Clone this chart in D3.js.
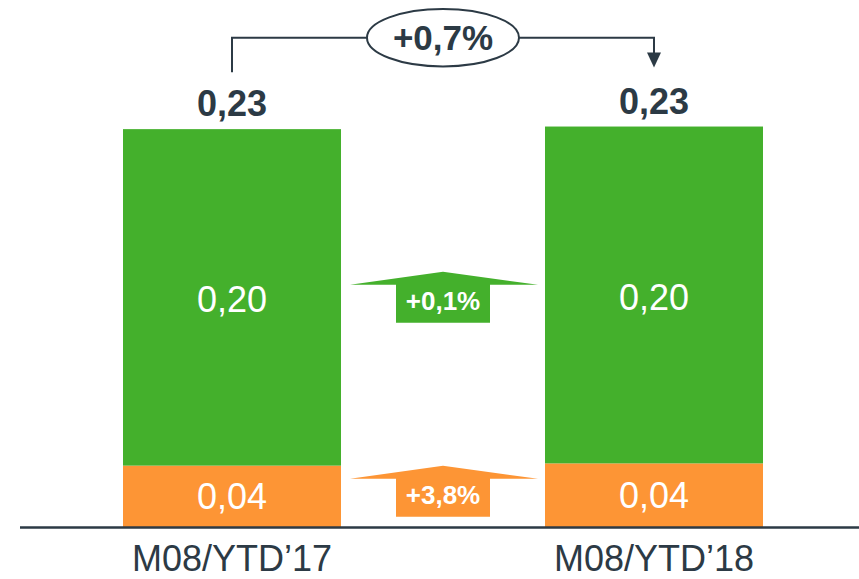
<!DOCTYPE html>
<html><head><meta charset="utf-8">
<script src="https://cdn.jsdelivr.net/npm/d3@7"></script>
<style>html,body{margin:0;padding:0;background:#fff;}svg{display:block;font-family:"Liberation Sans",Arial,sans-serif;}</style>
</head><body>
<svg id="c" width="859" height="579"></svg>
<script>
const categories = ["M08/YTD\u201917", "M08/YTD\u201918"];
const orangeValues = [0.0355, 0.0368];
const greenValues = [0.1946, 0.1948];
const orangeLabels = ["0,04", "0,04"];
const greenLabels = ["0,20", "0,20"];
const totalLabels = ["0,23", "0,23"];
const segmentChanges = { green: "+0,1%", orange: "+3,8%" };
const totalChange = "+0,7%";

const W = 859, H = 579;
const dark = "#2c3a45", green = "#44b02c", orange = "#fd9535";
const svg = d3.select("#c");

const x = d3.scaleBand().domain(categories).range([123, 763]).paddingInner(0.4834).paddingOuter(0);
const y = d3.scaleLinear().domain([0, 0.23]).range([527, 129.3]);

const data = categories.map((c, i) => ({
  c, o: orangeValues[i], g: greenValues[i],
  ol: orangeLabels[i], gl: greenLabels[i], tl: totalLabels[i]
}));

// bars
const bars = svg.append("g");
bars.selectAll("rect.o").data(data).join("rect")
  .attr("x", d => x(d.c)).attr("width", x.bandwidth())
  .attr("y", d => y(d.o)).attr("height", d => y(0) - y(d.o))
  .attr("fill", orange);
bars.selectAll("rect.g").data(data).join("rect")
  .attr("x", d => x(d.c)).attr("width", x.bandwidth())
  .attr("y", d => y(d.o + d.g)).attr("height", d => y(d.o) - y(d.o + d.g))
  .attr("fill", green);

const cx = d => x(d.c) + x.bandwidth() / 2;

// inner labels
svg.append("g").selectAll("text").data(data).join("text")
  .attr("x", cx).attr("y", d => (y(0) + y(d.o)) / 2 + 13)
  .attr("text-anchor", "middle").attr("fill", "#fff")
  .attr("font-size", 36).text(d => d.ol);
svg.append("g").selectAll("text").data(data).join("text")
  .attr("x", cx).attr("y", d => (y(d.o) + y(d.o + d.g)) / 2 + 15)
  .attr("text-anchor", "middle").attr("fill", "#fff")
  .attr("font-size", 36).text(d => d.gl);
// totals
svg.append("g").selectAll("text").data(data).join("text")
  .attr("x", cx).attr("y", d => y(d.o + d.g) - 12.7)
  .attr("text-anchor", "middle").attr("fill", dark)
  .attr("font-size", 36).attr("font-weight", "bold").text(d => d.tl);

// axis
svg.append("line").attr("x1", 20).attr("x2", W).attr("y1", y(0) + 0.5).attr("y2", y(0) + 0.5)
  .attr("stroke", dark).attr("stroke-width", 2.5);
const ax = svg.append("g").attr("transform", `translate(0,${y(0)})`)
  .call(d3.axisBottom(x).tickSize(0));
ax.select(".domain").remove();
ax.selectAll("text").attr("dy", null).attr("y", 44)
  .attr("font-size", 36).attr("fill", dark)
  .attr("font-family", "'Liberation Sans', Arial, sans-serif");

// change arrows between bars
const midX = (cx(data[0]) + cx(data[1])) / 2;
function upArrow(centerY, color, label) {
  const top = centerY - 25.5, wing = top + 13, bottom = top + 51;
  const g = svg.append("g");
  g.append("path").attr("fill", color).attr("d",
    `M${midX},${top} L${midX + 95},${wing} L${midX + 47},${wing} L${midX + 47},${bottom} L${midX - 47},${bottom} L${midX - 47},${wing} L${midX - 93},${wing} Z`);
  g.append("text").attr("x", midX).attr("y", wing + 25).attr("text-anchor", "middle")
    .attr("fill", "#fff").attr("font-weight", "bold").attr("font-size", 26).text(label);
}
const gMid = (y(data[0].o) + y(data[0].o + data[0].g)) / 2;
const oMid = (y(0) + y(data[0].o)) / 2;
upArrow(gMid, green, segmentChanges.green);
upArrow(oMid - 5, orange, segmentChanges.orange);

// top bracket
const lx = cx(data[0]), rx = cx(data[1]);
const by = 37.7;
const ex = 443, erx = 76, ery = 28.7;
const br = svg.append("g").attr("fill", "none").attr("stroke", dark).attr("stroke-width", 2);
br.append("path").attr("d", `M${lx},${y(data[0].o + data[0].g) - 57} L${lx},${by} L${ex - erx},${by}`);
br.append("path").attr("d", `M${ex + erx},${by} L${rx},${by} L${rx},${y(data[1].o + data[1].g) - 72}`);
svg.append("path").attr("fill", dark).attr("d",
  `M${rx - 7},${y(data[1].o + data[1].g) - 74} L${rx + 7},${y(data[1].o + data[1].g) - 74} L${rx},${y(data[1].o + data[1].g) - 59} Z`);
br.append("ellipse").attr("cx", ex).attr("cy", by).attr("rx", erx).attr("ry", ery).attr("fill", "#fff");
svg.append("text").attr("x", ex).attr("y", 50).attr("text-anchor", "middle")
  .attr("fill", dark).attr("font-weight", "bold").attr("font-size", 35).text(totalChange);
</script>
</body></html>
